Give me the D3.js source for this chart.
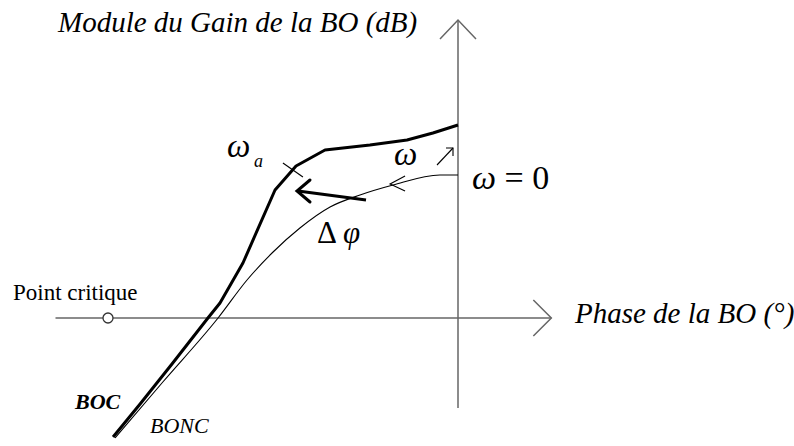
<!DOCTYPE html>
<html>
<head>
<meta charset="utf-8">
<script src="https://cdn.jsdelivr.net/npm/d3@7"></script>
<style>
  html, body { margin: 0; padding: 0; background: #fff; }
  svg { display: block; }
  text { font-family: "Liberation Serif", "Times New Roman", "DejaVu Serif", serif; fill: #000; }
</style>
</head>
<body>
<svg id="chart" width="794" height="446"></svg>
<script>
// Black-Nichols sketch: open loop (BONC) vs corrected loop (BOC)
// phase in degrees, gain modulus in dB
const phaseBOC  = [-177.4, -163.5, -147.1, -128.6, -122.4, -110.6, -94.1, -83.3, -68.4, -45.3, -26.2, -12.9, 0];
const gainBOC   = [-23.8, -17.2, -9.2, 0, 3.0, 11.0, 25.6, 30.4, 33.6, 34.6, 35.6, 37.0, 38.6];

const phaseBONC = [-176.4, -151.8, -123.4, -108.5, -95.1, -81.3, -65.8, -50.4, -33.4, -9.3, 0];
const gainBONC  = [-24.0, -12.8, 0, 7.6, 13.2, 18.0, 22.2, 24.6, 26.6, 28.6, 28.6];

const criticalPoint = { phase: -180, gain: 0 };
const omegaA = { phase: -84.9, gain: 29.6 };          // point marked ω_a on BOC
const deltaPhi = { from: [-47.3, 23.6], to: [-82.8, 25.4] };
const phaseRange = [-207, 48];
const gainRange = [-18, 59.6];

const svg = d3.select("#chart");
const x = d3.scaleLinear().domain([-180, 0]).range([108, 458]);
const y = d3.scaleLinear().domain([0, 40]).range([318, 118]);

const axisColor = "#666";

// axes
const gAxes = svg.append("g").attr("stroke", axisColor).attr("stroke-width", 1.5).attr("fill", "none");
gAxes.append("line")
  .attr("x1", x(phaseRange[0])).attr("x2", x(phaseRange[1]))
  .attr("y1", y(0)).attr("y2", y(0));
gAxes.append("line")
  .attr("x1", x(0)).attr("x2", x(0))
  .attr("y1", y(gainRange[0])).attr("y2", y(gainRange[1]));
// open arrowheads
const hx = x(phaseRange[1]), hy = y(0);
gAxes.append("polyline").attr("points", `${hx-18},${hy-18} ${hx},${hy} ${hx-18},${hy+18}`);
const vx = x(0), vy = y(gainRange[1]);
gAxes.append("polyline").attr("points", `${vx-18},${vy+19} ${vx},${vy} ${vx+18},${vy+19}`);

// curves
const line = d3.line().x(d => x(d[0])).y(d => y(d[1]));
const bonc = phaseBONC.map((p, i) => [p, gainBONC[i]]);
const boc = phaseBOC.map((p, i) => [p, gainBOC[i]]);

svg.append("path").datum(bonc)
  .attr("d", line.curve(d3.curveMonotoneX))
  .attr("fill", "none").attr("stroke", "#000").attr("stroke-width", 1.1);
svg.append("path").datum(boc)
  .attr("d", line.curve(d3.curveLinear))
  .attr("fill", "none").attr("stroke", "#000").attr("stroke-width", 3).attr("stroke-linejoin", "round");

// critical point
svg.append("circle")
  .attr("cx", x(criticalPoint.phase)).attr("cy", y(criticalPoint.gain)).attr("r", 5)
  .attr("fill", "#fff").attr("stroke", "#333").attr("stroke-width", 1.3);

// ω_a tick across BOC
const ax = x(omegaA.phase), ay = y(omegaA.gain);
svg.append("line")
  .attr("x1", ax - 10).attr("y1", ay - 7).attr("x2", ax + 10).attr("y2", ay + 7)
  .attr("stroke", "#000").attr("stroke-width", 1.1);

// direction chevron on BONC (increasing ω)
const cIdx = 8;
const cx0 = x(phaseBONC[cIdx]) - 3, cy0 = y(gainBONC[cIdx]) - 1;
svg.append("polyline")
  .attr("points", `${cx0+15},${cy0-8} ${cx0},${cy0} ${cx0+15},${cy0+7}`)
  .attr("fill", "none").attr("stroke", "#000").attr("stroke-width", 1.1);

// small arrow next to ω
const sx = x(0) - 21, sy = y(gainBONC[gainBONC.length - 1]) - 10;
svg.append("line").attr("x1", sx).attr("y1", sy).attr("x2", sx + 16).attr("y2", sy - 17)
  .attr("stroke", "#000").attr("stroke-width", 1.1);
svg.append("polyline")
  .attr("points", `${sx+9},${sy-17} ${sx+16},${sy-17} ${sx+16},${sy-9}`)
  .attr("fill", "none").attr("stroke", "#000").attr("stroke-width", 1.1);

// Δφ arrow (thick)
const [p0, g0] = deltaPhi.from, [p1, g1] = deltaPhi.to;
const tx = x(p1), ty = y(g1);
svg.append("line").attr("x1", x(p0)).attr("y1", y(g0)).attr("x2", tx + 1).attr("y2", ty)
  .attr("stroke", "#000").attr("stroke-width", 3);
svg.append("polyline")
  .attr("points", `${tx+13},${ty-11} ${tx},${ty} ${tx+13},${ty+11}`)
  .attr("fill", "none").attr("stroke", "#000").attr("stroke-width", 3)
  .attr("stroke-linejoin", "miter").attr("stroke-linecap", "round");

// labels
svg.append("text").attr("x", 58).attr("y", 32)
  .style("font-size", "29px").style("font-style", "italic")
  .text("Module du Gain de la BO (dB)");
svg.append("text").attr("x", 575).attr("y", 323)
  .style("font-size", "29px").style("font-style", "italic")
  .text("Phase de la BO (°)");
svg.append("text").attr("x", 13).attr("y", 300)
  .style("font-size", "23px")
  .text("Point critique");
svg.append("text").attr("x", 75).attr("y", 409)
  .style("font-size", "22px").style("font-style", "italic").style("font-weight", "bold")
  .text("BOC");
svg.append("text").attr("x", 150).attr("y", 433)
  .style("font-size", "22px").style("font-style", "italic")
  .text("BONC");

const wa = svg.append("text").attr("x", 227).attr("y", 157).style("font-style", "italic");
wa.append("tspan").style("font-size", "33px").text("ω");
wa.append("tspan").attr("x", 254).attr("y", 167).style("font-size", "18px").text("a");

svg.append("text").attr("x", 394).attr("y", 165)
  .style("font-size", "33px").style("font-style", "italic").text("ω");

const w0 = svg.append("text").attr("x", 472).attr("y", 189).style("font-size", "34px");
w0.append("tspan").style("font-style", "italic").text("ω");
w0.append("tspan").text(" = 0");

const dp = svg.append("text").attr("x", 317).attr("y", 243).style("font-size", "31px");
dp.append("tspan").text("Δ ");
dp.append("tspan").style("font-style", "italic").text("φ");
</script>
</body>
</html>
